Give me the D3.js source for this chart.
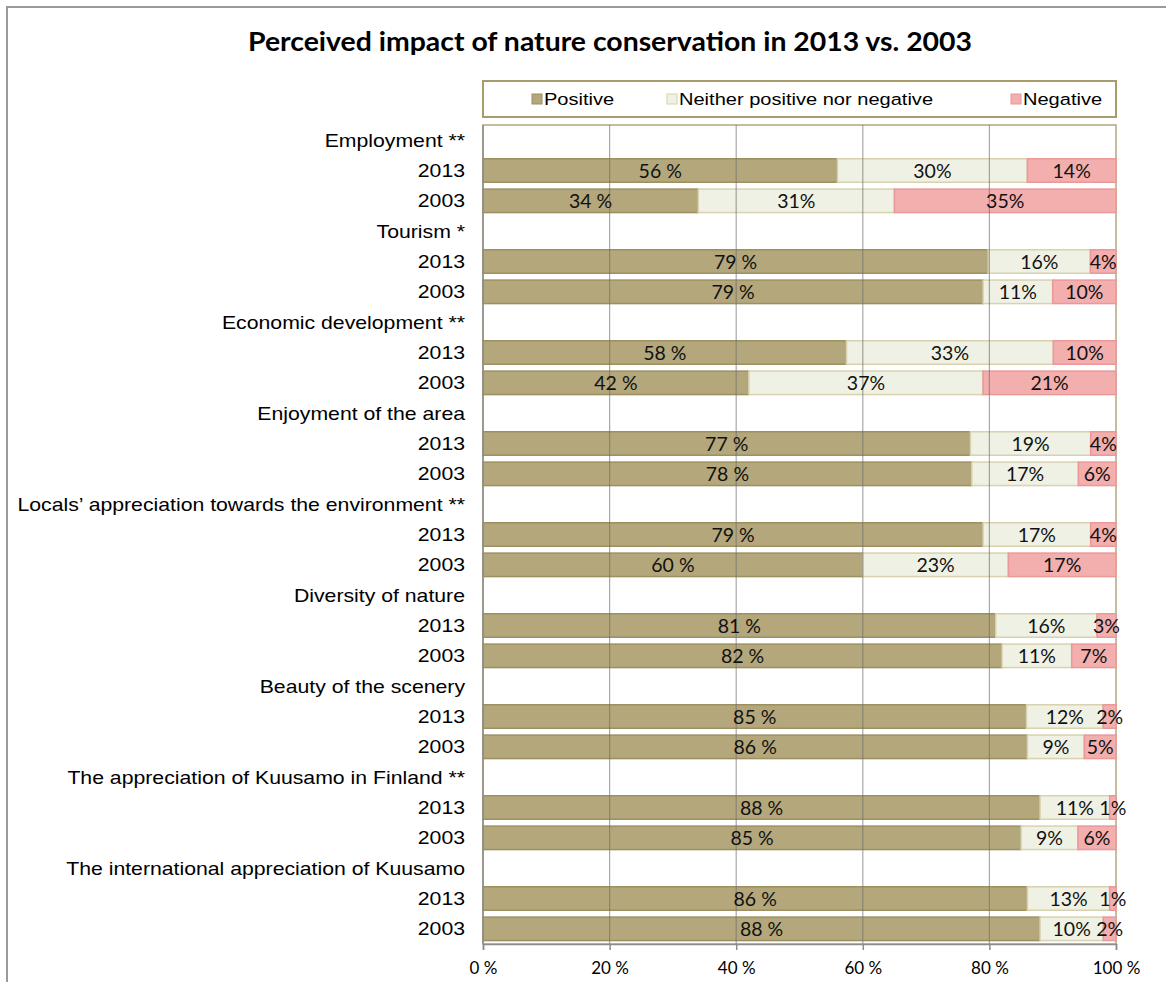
<!DOCTYPE html>
<html>
<head>
<meta charset="utf-8">
<script src="https://cdn.jsdelivr.net/npm/d3@7"></script>
<style>
  html, body { margin: 0; padding: 0; background: #fff; }
  svg { display: block; }
</style>
</head>
<body>
<svg id="chart" width="1166" height="982"></svg>
<script>
// Survey items, each answered in two survey years
const categories = [
  "Employment **",
  "Tourism *",
  "Economic development **",
  "Enjoyment of the area",
  "Locals\u2019 appreciation towards the environment **",
  "Diversity of nature",
  "Beauty of the scenery",
  "The appreciation of Kuusamo in Finland **",
  "The international appreciation of Kuusamo"
];
const years = ["2013", "2003"];

// Shares of respondents (%), one entry per category
const positive2013 = [56, 79, 58, 77, 79, 81, 85, 88, 86];
const neither2013  = [30, 16, 33, 19, 17, 16, 12, 11, 13];
const negative2013 = [14,  4, 10,  4,  4,  3,  2,  1,  1];
const positive2003 = [34, 79, 42, 78, 60, 82, 86, 85, 88];
const neither2003  = [31, 11, 37, 17, 23, 11,  9,  9, 10];
const negative2003 = [35, 10, 21,  6, 17,  7,  5,  6,  2];

const seriesKeys = ["positive", "neither", "negative"];
const seriesNames = ["Positive", "Neither positive nor negative", "Negative"];
const tickValues = [0, 0.2, 0.4, 0.6, 0.8, 1];

const fills   = { positive: "#b3a77b", neither: "#eef1e3", negative: "#f3aeae" };
const strokes = { positive: "#9d9060", neither: "#d8d2ae", negative: "#ea9898" };

// Arial-style labels are drawn slightly widened
const wide = 1.18;

// One header row per category followed by its two year rows
const rows = [];
categories.forEach((c, i) => {
  rows.push({ id: "h" + i, label: c, header: true });
  rows.push({ id: "a" + i, label: years[0], header: false,
    positive: positive2013[i], neither: neither2013[i], negative: negative2013[i] });
  rows.push({ id: "b" + i, label: years[1], header: false,
    positive: positive2003[i], neither: neither2003[i], negative: negative2003[i] });
});
const barRows = rows.filter(r => !r.header);

const svg = d3.select("#chart");

// Outer frame
svg.append("rect")
  .attr("x", 7).attr("y", 7).attr("width", 1200).attr("height", 1000)
  .attr("fill", "#fff").attr("stroke", "#9a9a9a").attr("stroke-width", 2);

const plot = { left: 483, right: 1116, top: 125, bottom: 944 };

const x = d3.scaleLinear().domain([0, 1]).range([plot.left, plot.right]);
const y = d3.scaleBand()
  .domain(rows.map(r => r.id))
  .range([plot.top, plot.bottom])
  .paddingInner(0.226)
  .paddingOuter(0.113);

// Title
svg.append("text")
  .attr("x", 610).attr("y", 51)
  .attr("text-anchor", "middle")
  .attr("textLength", 724)
  .attr("lengthAdjust", "spacingAndGlyphs")
  .style("font-family", "Lato, 'Open Sans', sans-serif")
  .style("font-weight", "bold")
  .style("font-size", "27px")
  .attr("fill", "#000")
  .text("Perceived impact of nature conservation in 2013 vs. 2003");

// Legend
const legend = svg.append("g");
legend.append("rect")
  .attr("x", plot.left).attr("y", 81).attr("width", plot.right - plot.left).attr("height", 36)
  .attr("fill", "#fff").attr("stroke", "#a89c6b").attr("stroke-width", 2);
const legendX = [532, 667, 1011];
seriesKeys.forEach((k, i) => {
  legend.append("rect")
    .attr("x", legendX[i]).attr("y", 94).attr("width", 10).attr("height", 10)
    .attr("fill", fills[k]).attr("stroke", strokes[k]).attr("stroke-width", 1);
  legend.append("text")
    .attr("transform", `translate(${legendX[i] + 12},105) scale(${wide},1)`)
    .style("font-family", "'Liberation Sans', Arial, sans-serif")
    .style("font-size", "17px")
    .attr("fill", "#000")
    .text(seriesNames[i]);
});

// Plot area border
svg.append("rect")
  .attr("x", plot.left).attr("y", plot.top)
  .attr("width", plot.right - plot.left).attr("height", plot.bottom - plot.top)
  .attr("fill", "#fff").attr("stroke", "#b2a77e").attr("stroke-width", 1.5);

// Stacked shares, each row normalised to 100 %
const stack = d3.stack().keys(seriesKeys).offset(d3.stackOffsetExpand);
const stacked = stack(barRows);

const layers = svg.append("g").selectAll("g")
  .data(stacked)
  .join("g")
  .attr("fill", d => fills[d.key])
  .attr("stroke", d => strokes[d.key])
  .attr("stroke-width", 1.5);

layers.selectAll("rect")
  .data(d => d)
  .join("rect")
  .attr("x", d => x(d[0]))
  .attr("y", d => y(d.data.id))
  .attr("width", d => x(d[1]) - x(d[0]))
  .attr("height", y.bandwidth());

// Vertical gridlines
svg.append("g").selectAll("line")
  .data(tickValues.slice(1, -1))
  .join("line")
  .attr("x1", d => x(d)).attr("x2", d => x(d))
  .attr("y1", plot.top).attr("y2", plot.bottom)
  .attr("stroke", "#6e6e6e").attr("stroke-opacity", 0.6).attr("stroke-width", 1.2);

// Value labels
const labels = svg.append("g")
  .style("font-family", "Lato, 'Open Sans', sans-serif")
  .style("font-size", "19.5px")
  .attr("fill", "#111")
  .attr("text-anchor", "middle");
stacked.forEach(layer => {
  labels.selectAll(null)
    .data(layer)
    .join("text")
    .attr("x", d => (x(d[0]) + x(d[1])) / 2)
    .attr("y", d => y(d.data.id) + y.bandwidth() / 2)
    .attr("dy", "0.36em")
    .text(d => layer.key === "positive"
      ? d.data[layer.key] + " %"
      : d.data[layer.key] + "%");
});

// Row labels
svg.append("g")
  .style("font-family", "'Liberation Sans', Arial, sans-serif")
  .style("font-size", "18px")
  .attr("text-anchor", "end")
  .attr("fill", "#000")
  .selectAll("text")
  .data(rows)
  .join("text")
  .attr("transform", d => `translate(465,${y(d.id) + y.bandwidth() / 2}) scale(${wide},1)`)
  .attr("dy", "0.36em")
  .text(d => d.label);

// Axes
const xAxis = d3.axisBottom(x)
  .tickValues(tickValues)
  .tickFormat(d => Math.round(d * 100) + " %")
  .tickSize(6)
  .tickPadding(12);
const gx = svg.append("g")
  .attr("transform", `translate(0,${plot.bottom})`)
  .call(xAxis);
gx.select(".domain").attr("stroke", "#8c8c8c").attr("stroke-width", 1.5);
gx.selectAll(".tick line").attr("stroke", "#8c8c8c").attr("stroke-width", 1.5);
gx.selectAll(".tick text")
  .style("font-family", "Lato, 'Open Sans', sans-serif")
  .style("font-size", "17px")
  .attr("fill", "#000");

svg.append("line")
  .attr("x1", plot.left).attr("x2", plot.left)
  .attr("y1", plot.top).attr("y2", plot.bottom)
  .attr("stroke", "#8c8c8c").attr("stroke-width", 1.5);
</script>
</body>
</html>
